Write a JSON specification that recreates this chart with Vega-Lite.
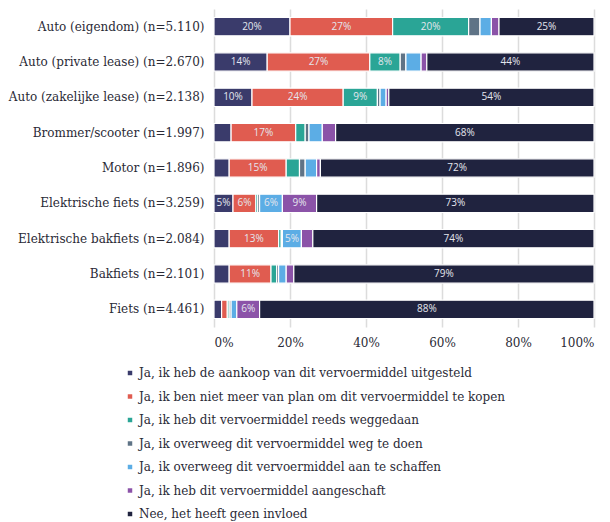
{
  "$schema": "https://vega.github.io/schema/vega-lite/v6.json",
  "autosize": "none",
  "width": 380,
  "height": 318,
  "padding": {"left": 214, "top": 9, "right": 16, "bottom": 195},
  "background": "white",
  "config": {"view": {"stroke": null}, "font": "DejaVu Serif"},
  "data": {"values": [
    {"c":"Auto (eigendom) (n=5.110)","o":1,"r":"Ja, ik heb de aankoop van dit vervoermiddel uitgesteld","v":20,"l":"20%"},
    {"c":"Auto (eigendom) (n=5.110)","o":2,"r":"Ja, ik ben niet meer van plan om dit vervoermiddel te kopen","v":27,"l":"27%"},
    {"c":"Auto (eigendom) (n=5.110)","o":3,"r":"Ja, ik heb dit vervoermiddel reeds weggedaan","v":20,"l":"20%"},
    {"c":"Auto (eigendom) (n=5.110)","o":4,"r":"Ja, ik overweeg dit vervoermiddel weg te doen","v":3,"l":""},
    {"c":"Auto (eigendom) (n=5.110)","o":5,"r":"Ja, ik overweeg dit vervoermiddel aan te schaffen","v":3,"l":""},
    {"c":"Auto (eigendom) (n=5.110)","o":6,"r":"Ja, ik heb dit vervoermiddel aangeschaft","v":2,"l":""},
    {"c":"Auto (eigendom) (n=5.110)","o":7,"r":"Nee, het heeft geen invloed","v":25,"l":"25%"},
    {"c":"Auto (private lease) (n=2.670)","o":1,"r":"Ja, ik heb de aankoop van dit vervoermiddel uitgesteld","v":14,"l":"14%"},
    {"c":"Auto (private lease) (n=2.670)","o":2,"r":"Ja, ik ben niet meer van plan om dit vervoermiddel te kopen","v":27,"l":"27%"},
    {"c":"Auto (private lease) (n=2.670)","o":3,"r":"Ja, ik heb dit vervoermiddel reeds weggedaan","v":8,"l":"8%"},
    {"c":"Auto (private lease) (n=2.670)","o":4,"r":"Ja, ik overweeg dit vervoermiddel weg te doen","v":1.5,"l":""},
    {"c":"Auto (private lease) (n=2.670)","o":5,"r":"Ja, ik overweeg dit vervoermiddel aan te schaffen","v":4,"l":""},
    {"c":"Auto (private lease) (n=2.670)","o":6,"r":"Ja, ik heb dit vervoermiddel aangeschaft","v":1.5,"l":""},
    {"c":"Auto (private lease) (n=2.670)","o":7,"r":"Nee, het heeft geen invloed","v":44,"l":"44%"},
    {"c":"Auto (zakelijke lease) (n=2.138)","o":1,"r":"Ja, ik heb de aankoop van dit vervoermiddel uitgesteld","v":10,"l":"10%"},
    {"c":"Auto (zakelijke lease) (n=2.138)","o":2,"r":"Ja, ik ben niet meer van plan om dit vervoermiddel te kopen","v":24,"l":"24%"},
    {"c":"Auto (zakelijke lease) (n=2.138)","o":3,"r":"Ja, ik heb dit vervoermiddel reeds weggedaan","v":9,"l":"9%"},
    {"c":"Auto (zakelijke lease) (n=2.138)","o":4,"r":"Ja, ik overweeg dit vervoermiddel weg te doen","v":0.7,"l":""},
    {"c":"Auto (zakelijke lease) (n=2.138)","o":5,"r":"Ja, ik overweeg dit vervoermiddel aan te schaffen","v":1.6,"l":""},
    {"c":"Auto (zakelijke lease) (n=2.138)","o":6,"r":"Ja, ik heb dit vervoermiddel aangeschaft","v":0.7,"l":""},
    {"c":"Auto (zakelijke lease) (n=2.138)","o":7,"r":"Nee, het heeft geen invloed","v":54,"l":"54%"},
    {"c":"Brommer/scooter (n=1.997)","o":1,"r":"Ja, ik heb de aankoop van dit vervoermiddel uitgesteld","v":4.5,"l":""},
    {"c":"Brommer/scooter (n=1.997)","o":2,"r":"Ja, ik ben niet meer van plan om dit vervoermiddel te kopen","v":17,"l":"17%"},
    {"c":"Brommer/scooter (n=1.997)","o":3,"r":"Ja, ik heb dit vervoermiddel reeds weggedaan","v":2.5,"l":""},
    {"c":"Brommer/scooter (n=1.997)","o":4,"r":"Ja, ik overweeg dit vervoermiddel weg te doen","v":1,"l":""},
    {"c":"Brommer/scooter (n=1.997)","o":5,"r":"Ja, ik overweeg dit vervoermiddel aan te schaffen","v":3.5,"l":""},
    {"c":"Brommer/scooter (n=1.997)","o":6,"r":"Ja, ik heb dit vervoermiddel aangeschaft","v":3.5,"l":""},
    {"c":"Brommer/scooter (n=1.997)","o":7,"r":"Nee, het heeft geen invloed","v":68,"l":"68%"},
    {"c":"Motor (n=1.896)","o":1,"r":"Ja, ik heb de aankoop van dit vervoermiddel uitgesteld","v":4,"l":""},
    {"c":"Motor (n=1.896)","o":2,"r":"Ja, ik ben niet meer van plan om dit vervoermiddel te kopen","v":15,"l":"15%"},
    {"c":"Motor (n=1.896)","o":3,"r":"Ja, ik heb dit vervoermiddel reeds weggedaan","v":3.5,"l":""},
    {"c":"Motor (n=1.896)","o":4,"r":"Ja, ik overweeg dit vervoermiddel weg te doen","v":1.5,"l":""},
    {"c":"Motor (n=1.896)","o":5,"r":"Ja, ik overweeg dit vervoermiddel aan te schaffen","v":3,"l":""},
    {"c":"Motor (n=1.896)","o":6,"r":"Ja, ik heb dit vervoermiddel aangeschaft","v":1,"l":""},
    {"c":"Motor (n=1.896)","o":7,"r":"Nee, het heeft geen invloed","v":72,"l":"72%"},
    {"c":"Elektrische fiets (n=3.259)","o":1,"r":"Ja, ik heb de aankoop van dit vervoermiddel uitgesteld","v":5,"l":"5%"},
    {"c":"Elektrische fiets (n=3.259)","o":2,"r":"Ja, ik ben niet meer van plan om dit vervoermiddel te kopen","v":6,"l":"6%"},
    {"c":"Elektrische fiets (n=3.259)","o":3,"r":"Ja, ik heb dit vervoermiddel reeds weggedaan","v":0.5,"l":""},
    {"c":"Elektrische fiets (n=3.259)","o":4,"r":"Ja, ik overweeg dit vervoermiddel weg te doen","v":0.5,"l":""},
    {"c":"Elektrische fiets (n=3.259)","o":5,"r":"Ja, ik overweeg dit vervoermiddel aan te schaffen","v":6,"l":"6%"},
    {"c":"Elektrische fiets (n=3.259)","o":6,"r":"Ja, ik heb dit vervoermiddel aangeschaft","v":9,"l":"9%"},
    {"c":"Elektrische fiets (n=3.259)","o":7,"r":"Nee, het heeft geen invloed","v":73,"l":"73%"},
    {"c":"Elektrische bakfiets (n=2.084)","o":1,"r":"Ja, ik heb de aankoop van dit vervoermiddel uitgesteld","v":4,"l":""},
    {"c":"Elektrische bakfiets (n=2.084)","o":2,"r":"Ja, ik ben niet meer van plan om dit vervoermiddel te kopen","v":13,"l":"13%"},
    {"c":"Elektrische bakfiets (n=2.084)","o":3,"r":"Ja, ik heb dit vervoermiddel reeds weggedaan","v":0.7,"l":""},
    {"c":"Elektrische bakfiets (n=2.084)","o":4,"r":"Ja, ik overweeg dit vervoermiddel weg te doen","v":0.3,"l":""},
    {"c":"Elektrische bakfiets (n=2.084)","o":5,"r":"Ja, ik overweeg dit vervoermiddel aan te schaffen","v":5,"l":"5%"},
    {"c":"Elektrische bakfiets (n=2.084)","o":6,"r":"Ja, ik heb dit vervoermiddel aangeschaft","v":3,"l":""},
    {"c":"Elektrische bakfiets (n=2.084)","o":7,"r":"Nee, het heeft geen invloed","v":74,"l":"74%"},
    {"c":"Bakfiets (n=2.101)","o":1,"r":"Ja, ik heb de aankoop van dit vervoermiddel uitgesteld","v":4,"l":""},
    {"c":"Bakfiets (n=2.101)","o":2,"r":"Ja, ik ben niet meer van plan om dit vervoermiddel te kopen","v":11,"l":"11%"},
    {"c":"Bakfiets (n=2.101)","o":3,"r":"Ja, ik heb dit vervoermiddel reeds weggedaan","v":1.5,"l":""},
    {"c":"Bakfiets (n=2.101)","o":4,"r":"Ja, ik overweeg dit vervoermiddel weg te doen","v":0.5,"l":""},
    {"c":"Bakfiets (n=2.101)","o":5,"r":"Ja, ik overweeg dit vervoermiddel aan te schaffen","v":2,"l":""},
    {"c":"Bakfiets (n=2.101)","o":6,"r":"Ja, ik heb dit vervoermiddel aangeschaft","v":2,"l":""},
    {"c":"Bakfiets (n=2.101)","o":7,"r":"Nee, het heeft geen invloed","v":79,"l":"79%"},
    {"c":"Fiets  (n=4.461)","o":1,"r":"Ja, ik heb de aankoop van dit vervoermiddel uitgesteld","v":2,"l":""},
    {"c":"Fiets  (n=4.461)","o":2,"r":"Ja, ik ben niet meer van plan om dit vervoermiddel te kopen","v":1.5,"l":""},
    {"c":"Fiets  (n=4.461)","o":3,"r":"Ja, ik heb dit vervoermiddel reeds weggedaan","v":0.5,"l":""},
    {"c":"Fiets  (n=4.461)","o":4,"r":"Ja, ik overweeg dit vervoermiddel weg te doen","v":0.5,"l":""},
    {"c":"Fiets  (n=4.461)","o":5,"r":"Ja, ik overweeg dit vervoermiddel aan te schaffen","v":1.5,"l":""},
    {"c":"Fiets  (n=4.461)","o":6,"r":"Ja, ik heb dit vervoermiddel aangeschaft","v":6,"l":"6%"},
    {"c":"Fiets  (n=4.461)","o":7,"r":"Nee, het heeft geen invloed","v":88,"l":"88%"}
  ]},
  "encoding": {
    "y": {"field": "c", "type": "nominal", "sort": null, "title": null,
      "scale": {"paddingInner": 0.48, "paddingOuter": 0.24},
      "axis": {"ticks": false, "domain": false, "labelFont": "DejaVu Serif", "labelFontSize": 12, "labelColor": "#2a2a36", "labelPadding": 10, "labelLimit": 300}},
    "x": {"field": "v", "type": "quantitative", "stack": "zero", "title": null,
      "scale": {"domain": [0, 100], "nice": false},
      "axis": {"values": [0, 20, 40, 60, 80, 100], "labelExpr": "datum.value + '%'", "ticks": false, "domain": false,
        "grid": true, "gridColor": "#dcdcdc", "gridWidth": 1.5,
        "labelFont": "DejaVu Serif", "labelFontSize": 12, "labelColor": "#2a2a36", "labelPadding": 10}},
    "order": {"field": "o", "type": "quantitative"}
  },
  "layer": [
    {
      "mark": {"type": "bar", "stroke": "white", "strokeWidth": 1.2},
      "encoding": {
        "color": {"field": "r", "type": "nominal", "sort": null,
          "scale": {"domain": [
            "Ja, ik heb de aankoop van dit vervoermiddel uitgesteld",
            "Ja, ik ben niet meer van plan om dit vervoermiddel te kopen",
            "Ja, ik heb dit vervoermiddel reeds weggedaan",
            "Ja, ik overweeg dit vervoermiddel weg te doen",
            "Ja, ik overweeg dit vervoermiddel aan te schaffen",
            "Ja, ik heb dit vervoermiddel aangeschaft",
            "Nee, het heeft geen invloed"],
            "range": ["#3a3b6b", "#e05c50", "#2aa596", "#5f7386", "#5cade5", "#8b53a8", "#20233f"]},
          "legend": {"title": null, "orient": "none", "legendX": -90, "legendY": 358, "direction": "vertical",
            "symbolType": "square", "symbolSize": 20, "symbolStrokeWidth": 0,
            "labelFont": "DejaVu Serif", "labelFontSize": 12, "labelColor": "#2a2a36", "labelLimit": 500,
            "rowPadding": 11.5, "labelOffset": 3}}
      }
    },
    {
      "mark": {"type": "text", "color": "#e4e6ee", "font": "Open Sans", "fontSize": 10, "baseline": "middle", "align": "center"},
      "encoding": {
        "x": {"field": "v", "type": "quantitative", "stack": "zero", "bandPosition": 0.5},
        "text": {"field": "l"}
      }
    }
  ]
}
